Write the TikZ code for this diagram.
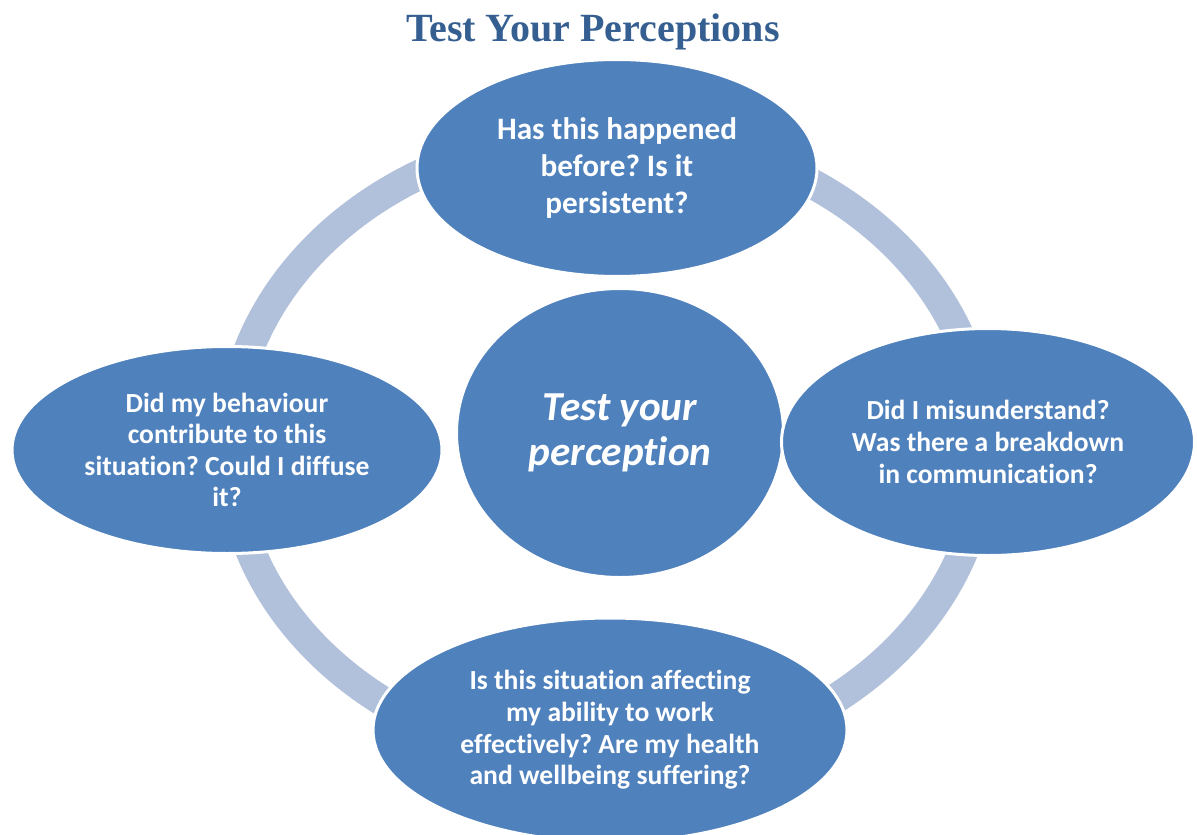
\documentclass[tikz,border=0pt]{standalone}
\usepackage{fontspec}
\setmainfont[Ligatures=NoCommon]{Carlito}
\newfontfamily\titlefont{Liberation Serif}
\usetikzlibrary{shapes.geometric}
\definecolor{bubble}{HTML}{4F81BD}
\definecolor{ringcol}{HTML}{B2C1DB}
\definecolor{titlecol}{HTML}{365F91}
\frenchspacing
\tikzset{
  bubble/.style={ellipse, fill=bubble, draw=white, line width=1.5pt, inner sep=0pt,
    text=white, align=center, font=\frenchspacing\bfseries\fontsize{13.8}{15.8}\selectfont},
  ringstyle/.style={draw=ringcol, line width=15pt},
  titlestyle/.style={text=titlecol, font=\titlefont\bfseries\fontsize{20}{23}\selectfont, anchor=base}
}
\begin{document}
\begin{tikzpicture}[x=0.5pt,y=-0.5pt]
\useasboundingbox (0,0) rectangle (1197,834);
\clip (0,0) rectangle (1197,834);
\node[titlestyle] (title) at (593,42) {Test Your Perceptions};
\coordinate (ringc) at (607,448);
\draw[ringstyle] (ringc) ellipse [x radius=188.5pt, y radius=157.5pt];
\node[bubble, minimum width=163.5pt, minimum height=144.5pt,
  font=\bfseries\itshape\fontsize{20.6}{22.5}\selectfont] (c) at (620,433) {Test your\\perception};
\node[bubble, minimum width=200pt, minimum height=108.5pt,
  font=\frenchspacing\bfseries\fontsize{15.6}{18.3}\selectfont] (top) at (617,168) {Has this happened\\before? Is it\\persistent?};
\node[bubble, minimum width=215pt, minimum height=103.5pt] (left) at (227,450)
  {Did my behaviour\\contribute to this\\situation? Could I diffuse\\it?};
\node[bubble, minimum width=206.5pt, minimum height=113.5pt] (right) at (988,442)
  {Did I misunderstand?\\Was there a breakdown\\in communication?};
\node[bubble, minimum width=237pt, minimum height=112pt] (bottom) at (610,730)
  {Is this situation affecting\\my ability to work\\effectively? Are my health\\and wellbeing suffering?};
\end{tikzpicture}
\end{document}
